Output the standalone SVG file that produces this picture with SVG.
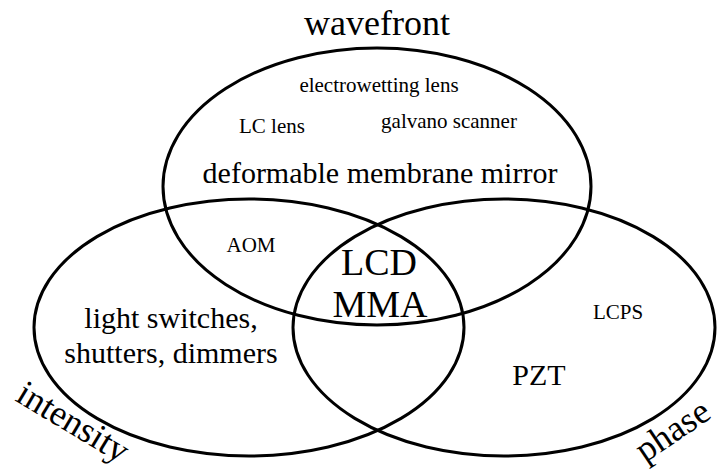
<svg xmlns="http://www.w3.org/2000/svg" width="717" height="471" viewBox="0 0 717 471">
  <style>
    .ring { fill: none; stroke: #000; stroke-width: 3; }
    text { font-family: "Liberation Serif", "Times New Roman", serif; fill: #000; text-anchor: middle; }
    .small { font-size: 21px; }
    .mid { font-size: 30px; }
    .big { font-size: 38px; }
    .title { font-size: 36px; }
  </style>
  <rect width="717" height="471" fill="#fff"/>

  <!-- the three overlapping sets -->
  <g id="connectors">
    <ellipse id="set-wavefront" class="ring" cx="377" cy="186.5" rx="214" ry="138.5"/>
    <ellipse id="set-intensity" class="ring" cx="249" cy="327.5" rx="215" ry="128.5"/>
    <ellipse id="set-phase" class="ring" cx="504" cy="327.5" rx="211" ry="128.5"/>
  </g>

  <!-- set titles -->
  <g id="label-wavefront"><text class="title" x="377" y="35">wavefront</text></g>
  <g id="label-intensity"><text class="title" style="text-anchor:start" transform="translate(14,400) rotate(31)">intensity</text></g>
  <g id="label-phase"><text class="title" style="text-anchor:start" transform="translate(645,463) rotate(-34)">phase</text></g>

  <!-- wavefront-only region -->
  <g id="node-electrowetting"><text class="small" x="379" y="92">electrowetting lens</text></g>
  <g id="node-lclens"><text class="small" x="272" y="133">LC lens</text></g>
  <g id="node-galvano"><text class="small" x="449" y="128">galvano scanner</text></g>
  <g id="node-dmm"><text class="mid" x="380" y="183">deformable membrane mirror</text></g>

  <!-- wavefront ∩ intensity -->
  <g id="node-aom"><text class="small" x="251" y="252">AOM</text></g>

  <!-- all three -->
  <g id="node-center">
    <text class="big" x="379" y="275">LCD</text>
    <text class="big" x="380" y="317">MMA</text>
  </g>

  <!-- intensity-only region -->
  <g id="node-switches">
    <text class="mid" x="171" y="328">light switches,</text>
    <text class="mid" x="171" y="363">shutters, dimmers</text>
  </g>

  <!-- phase-only region -->
  <g id="node-lcps"><text class="small" x="618" y="319">LCPS</text></g>
  <g id="node-pzt"><text class="mid" x="539" y="385">PZT</text></g>
</svg>
